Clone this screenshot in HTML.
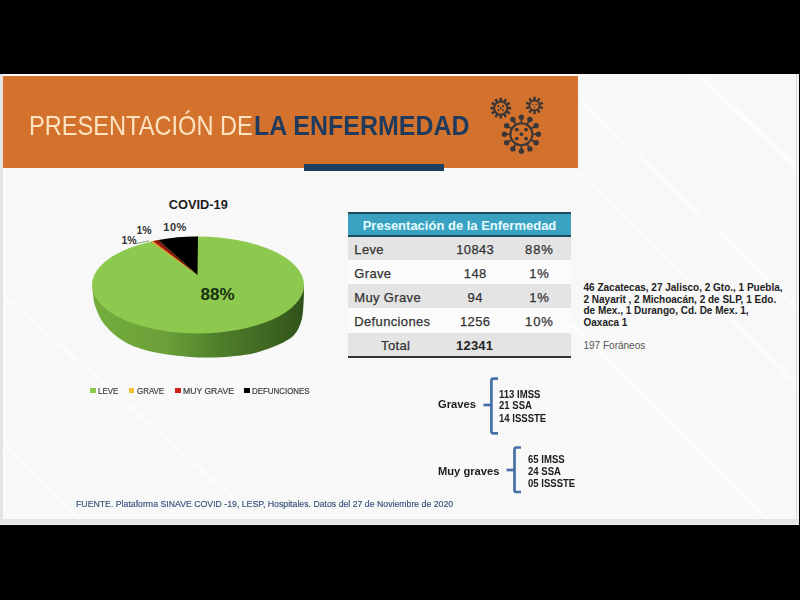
<!DOCTYPE html>
<html><head><meta charset="utf-8">
<style>
html,body{margin:0;padding:0;}
body{width:800px;height:600px;background:#000;overflow:hidden;position:relative;font-family:"Liberation Sans",sans-serif;}
.abs{position:absolute;}
.t{position:absolute;white-space:nowrap;line-height:1;transform-origin:0 0;}
#slide{position:absolute;left:0;top:74px;width:799px;height:450.6px;background:#f8f8f8;overflow:hidden;}
</style></head><body>
<div id="slide">
  <svg class="abs" style="left:0;top:0" width="799" height="451" viewBox="0 74 799 451">
    <defs><filter id="bl" x="-10%" y="-10%" width="120%" height="120%"><feGaussianBlur stdDeviation="1.2"/></filter></defs>
    <g stroke="#ffffff" fill="none" stroke-linecap="round" filter="url(#bl)">
      <line x1="581" y1="101" x2="800" y2="310" stroke-width="2.2"/>
      <line x1="578" y1="172" x2="800" y2="387" stroke-width="2"/>
      <line x1="697" y1="74" x2="800" y2="170" stroke-width="3"/>
      <line x1="560" y1="313" x2="771" y2="524" stroke-width="2.2"/>
      <line x1="0" y1="292" x2="240" y2="504" stroke-width="2.2"/>
      <line x1="0" y1="439" x2="85" y2="524" stroke-width="2"/>
    </g>
          </svg>
  <div class="abs" style="left:0;top:0;width:3px;height:451px;background:#e4e4e4"></div>
  <div class="abs" style="left:3px;top:0;width:2px;height:451px;background:#fafafa"></div>
  <div class="abs" style="left:795.5px;top:0;width:1.5px;height:451px;background:#d9d9d9"></div>
  <div class="abs" style="left:797px;top:0;width:2px;height:451px;background:#f4f4f4"></div>
  <div class="abs" style="left:0;top:444.6px;width:799px;height:5px;background:#e5e5e7"></div>
  <div class="abs" style="left:0;top:449.6px;width:799px;height:1px;background:#f0f0f0"></div>
</div>
<div class="abs" style="left:3px;top:76px;width:575px;height:91.5px;background:#d3722c"></div>
<div class="abs" style="left:304px;top:164px;width:140px;height:6.5px;background:#1c3f62"></div>
<div class="t" style="left:28.7px;top:112.22px;font-size:27.5px;font-weight:400;color:#fde3c2;transform:scaleX(0.858);">PRESENTACIÓN DE</div>
<div class="t" style="left:254px;top:113.34px;font-size:27.0px;font-weight:700;color:#1f3a5c;transform:scaleX(0.925);">LA ENFERMEDAD</div>
<svg class="abs" style="left:0;top:0" width="800" height="600" viewBox="0 0 800 600"><circle cx="521.4" cy="134.2" r="11.0" fill="none" stroke="#3b3637" stroke-width="2.0"/><line x1="521.40" y1="122.70" x2="521.40" y2="117.20" stroke="#3b3637" stroke-width="1.8"/><circle cx="521.40" cy="117.20" r="2.7" fill="#3b3637"/><line x1="527.15" y1="124.24" x2="529.90" y2="119.48" stroke="#3b3637" stroke-width="1.8"/><circle cx="529.90" cy="119.48" r="2.7" fill="#3b3637"/><line x1="531.36" y1="128.45" x2="536.12" y2="125.70" stroke="#3b3637" stroke-width="1.8"/><circle cx="536.12" cy="125.70" r="2.7" fill="#3b3637"/><line x1="532.90" y1="134.20" x2="538.40" y2="134.20" stroke="#3b3637" stroke-width="1.8"/><circle cx="538.40" cy="134.20" r="2.7" fill="#3b3637"/><line x1="531.36" y1="139.95" x2="536.12" y2="142.70" stroke="#3b3637" stroke-width="1.8"/><circle cx="536.12" cy="142.70" r="2.7" fill="#3b3637"/><line x1="527.15" y1="144.16" x2="529.90" y2="148.92" stroke="#3b3637" stroke-width="1.8"/><circle cx="529.90" cy="148.92" r="2.7" fill="#3b3637"/><line x1="521.40" y1="145.70" x2="521.40" y2="151.20" stroke="#3b3637" stroke-width="1.8"/><circle cx="521.40" cy="151.20" r="2.7" fill="#3b3637"/><line x1="515.65" y1="144.16" x2="512.90" y2="148.92" stroke="#3b3637" stroke-width="1.8"/><circle cx="512.90" cy="148.92" r="2.7" fill="#3b3637"/><line x1="511.44" y1="139.95" x2="506.68" y2="142.70" stroke="#3b3637" stroke-width="1.8"/><circle cx="506.68" cy="142.70" r="2.7" fill="#3b3637"/><line x1="509.90" y1="134.20" x2="504.40" y2="134.20" stroke="#3b3637" stroke-width="1.8"/><circle cx="504.40" cy="134.20" r="2.7" fill="#3b3637"/><line x1="511.44" y1="128.45" x2="506.68" y2="125.70" stroke="#3b3637" stroke-width="1.8"/><circle cx="506.68" cy="125.70" r="2.7" fill="#3b3637"/><line x1="515.65" y1="124.24" x2="512.90" y2="119.48" stroke="#3b3637" stroke-width="1.8"/><circle cx="512.90" cy="119.48" r="2.7" fill="#3b3637"/><circle cx="516.80" cy="129.60" r="1.9" fill="#3b3637"/><circle cx="526.00" cy="129.60" r="1.9" fill="#3b3637"/><circle cx="521.40" cy="134.20" r="1.9" fill="#3b3637"/><circle cx="516.80" cy="138.60" r="1.9" fill="#3b3637"/><circle cx="526.00" cy="138.60" r="1.9" fill="#3b3637"/><circle cx="500.75" cy="108.1" r="6.6" fill="none" stroke="#3b3637" stroke-width="2.0"/><line x1="500.75" y1="101.10" x2="500.75" y2="97.70" stroke="#3b3637" stroke-width="2.6"/><line x1="504.25" y1="102.04" x2="505.95" y2="99.09" stroke="#3b3637" stroke-width="2.6"/><line x1="506.81" y1="104.60" x2="509.76" y2="102.90" stroke="#3b3637" stroke-width="2.6"/><line x1="507.75" y1="108.10" x2="511.15" y2="108.10" stroke="#3b3637" stroke-width="2.6"/><line x1="506.81" y1="111.60" x2="509.76" y2="113.30" stroke="#3b3637" stroke-width="2.6"/><line x1="504.25" y1="114.16" x2="505.95" y2="117.11" stroke="#3b3637" stroke-width="2.6"/><line x1="500.75" y1="115.10" x2="500.75" y2="118.50" stroke="#3b3637" stroke-width="2.6"/><line x1="497.25" y1="114.16" x2="495.55" y2="117.11" stroke="#3b3637" stroke-width="2.6"/><line x1="494.69" y1="111.60" x2="491.74" y2="113.30" stroke="#3b3637" stroke-width="2.6"/><line x1="493.75" y1="108.10" x2="490.35" y2="108.10" stroke="#3b3637" stroke-width="2.6"/><line x1="494.69" y1="104.60" x2="491.74" y2="102.90" stroke="#3b3637" stroke-width="2.6"/><line x1="497.25" y1="102.04" x2="495.55" y2="99.09" stroke="#3b3637" stroke-width="2.6"/><circle cx="498.50" cy="106.20" r="1.1" fill="#3b3637"/><circle cx="503.00" cy="106.20" r="1.1" fill="#3b3637"/><circle cx="500.75" cy="108.30" r="1.1" fill="#3b3637"/><circle cx="498.50" cy="110.35" r="1.0" fill="#3b3637"/><circle cx="503.00" cy="110.35" r="1.0" fill="#3b3637"/><circle cx="534.5" cy="105.5" r="5.0" fill="none" stroke="#3b3637" stroke-width="1.8"/><line x1="534.50" y1="100.00" x2="534.50" y2="96.70" stroke="#3b3637" stroke-width="2.4"/><line x1="537.73" y1="101.05" x2="539.67" y2="98.38" stroke="#3b3637" stroke-width="2.4"/><line x1="539.73" y1="103.80" x2="542.87" y2="102.78" stroke="#3b3637" stroke-width="2.4"/><line x1="539.73" y1="107.20" x2="542.87" y2="108.22" stroke="#3b3637" stroke-width="2.4"/><line x1="537.73" y1="109.95" x2="539.67" y2="112.62" stroke="#3b3637" stroke-width="2.4"/><line x1="534.50" y1="111.00" x2="534.50" y2="114.30" stroke="#3b3637" stroke-width="2.4"/><line x1="531.27" y1="109.95" x2="529.33" y2="112.62" stroke="#3b3637" stroke-width="2.4"/><line x1="529.27" y1="107.20" x2="526.13" y2="108.22" stroke="#3b3637" stroke-width="2.4"/><line x1="529.27" y1="103.80" x2="526.13" y2="102.78" stroke="#3b3637" stroke-width="2.4"/><line x1="531.27" y1="101.05" x2="529.33" y2="98.38" stroke="#3b3637" stroke-width="2.4"/><circle cx="532.90" cy="104.50" r="0.8" fill="#3b3637"/><circle cx="536.10" cy="104.50" r="0.8" fill="#3b3637"/><circle cx="534.50" cy="107.30" r="0.8" fill="#3b3637"/></svg>
<svg class="abs" style="left:0;top:0" width="800" height="600" viewBox="0 0 800 600"><defs><linearGradient id="sideg" x1="92" y1="0" x2="304" y2="0" gradientUnits="userSpaceOnUse"><stop offset="0" stop-color="#74ad3f"/><stop offset="0.35" stop-color="#6b9f38"/><stop offset="0.6" stop-color="#4f7f2b"/><stop offset="0.85" stop-color="#3d6421"/><stop offset="1" stop-color="#30521a"/></linearGradient></defs><path d="M92.3,285 C92.45,286.83 92.67,292.33 93.2,296 C93.73,299.67 93.62,302.25 95.5,307 C97.38,311.75 100.00,318.92 104.5,324.5 C109.00,330.08 115.75,336.25 122.5,340.5 C129.25,344.75 136.25,347.50 145,350 C153.75,352.50 165.00,354.23 175,355.5 C185.00,356.77 195.00,357.52 205,357.6 C215.00,357.68 225.83,357.02 235,356 C244.17,354.98 250.83,354.42 260,351.5 C269.17,348.58 283.17,343.42 290,338.5 C296.83,333.58 298.72,328.42 301,322 C303.28,315.58 303.25,306.17 303.7,300 C304.15,293.83 303.70,287.50 303.7,285 Z" fill="url(#sideg)"/><ellipse cx="198" cy="285" rx="106" ry="48.5" fill="#8dc94f"/><path d="M197.5,275 L198,236.5 A106,48.5 0 0 0 158.50,239.99 Z" fill="#000"/><defs><linearGradient id="redg" x1="158" y1="236" x2="151" y2="244" gradientUnits="userSpaceOnUse"><stop offset="0" stop-color="#200404"/><stop offset="0.5" stop-color="#a01c10"/><stop offset="1" stop-color="#e0401a"/></linearGradient></defs><path d="M197.5,275 L158.50,239.99 A106,48.5 0 0 0 152.60,241.17 Z" fill="url(#redg)"/><path d="M197.5,275 L152.60,241.17 A106,48.5 0 0 0 150.60,241.62 Z" fill="#f5a030"/><line x1="136" y1="243.5" x2="149" y2="240.8" stroke="#6a8a50" stroke-width="0.8"/></svg>
<div class="t" style="left:168.8px;top:199.26px;font-size:12.8px;font-weight:700;color:#1e1e1e;">COVID-19</div>
<div class="t" style="left:136.5px;top:224.61px;font-size:10.5px;font-weight:700;color:#333;">1%</div>
<div class="t" style="left:121.5px;top:235.11px;font-size:10.5px;font-weight:700;color:#333;">1%</div>
<div class="t" style="left:163.3px;top:221.69px;font-size:11px;font-weight:700;color:#333;letter-spacing:0.5px;">10%</div>
<div class="t" style="left:200.5px;top:286.11px;font-size:17px;font-weight:700;color:#17300d;">88%</div>
<div class="abs" style="left:90px;top:387.5px;width:5.5px;height:5px;background:#8dc94f"></div>
<div class="abs" style="left:128.5px;top:387.5px;width:5.5px;height:5px;background:#f2c12e"></div>
<div class="abs" style="left:175px;top:387.5px;width:5.5px;height:5px;background:#d0201a"></div>
<div class="abs" style="left:244px;top:387.5px;width:5.5px;height:5px;background:#000"></div>
<div class="t" style="left:98px;top:386.55px;font-size:8.8px;font-weight:400;color:#404040;transform:scaleX(0.9);-webkit-text-stroke:0.2px #404040;">LEVE</div>
<div class="t" style="left:136.5px;top:386.55px;font-size:8.8px;font-weight:400;color:#404040;transform:scaleX(0.9);-webkit-text-stroke:0.2px #404040;">GRAVE</div>
<div class="t" style="left:183px;top:386.55px;font-size:8.8px;font-weight:400;color:#404040;transform:scaleX(0.98);-webkit-text-stroke:0.2px #404040;">MUY GRAVE</div>
<div class="t" style="left:251.5px;top:386.55px;font-size:8.8px;font-weight:400;color:#404040;transform:scaleX(0.9);-webkit-text-stroke:0.2px #404040;">DEFUNCIONES</div>
<div class="abs" style="left:348px;top:212px;width:223px;height:2px;background:#1b4a5a"></div>
<div class="abs" style="left:348px;top:214px;width:223px;height:21px;background:#3aa2c0"></div>
<div class="abs" style="left:348px;top:235px;width:223px;height:2px;background:#1b4a5a"></div>
<div class="abs" style="left:348px;top:237px;width:223px;height:23px;background:#e4e4e4"></div>
<div class="abs" style="left:348px;top:260px;width:223px;height:24px;background:#fbfbfb"></div>
<div class="abs" style="left:348px;top:284px;width:223px;height:24px;background:#e4e4e4"></div>
<div class="abs" style="left:348px;top:308px;width:223px;height:24.5px;background:#fbfbfb"></div>
<div class="abs" style="left:348px;top:332.5px;width:223px;height:23.0px;background:#e4e4e4"></div>
<div class="abs" style="left:348px;top:355.5px;width:223px;height:2.0px;background:#333"></div>
<div class="t" style="left:359.5px;width:200px;text-align:center;top:218.70px;font-size:13px;font-weight:700;color:#e6fbff;">Presentación de la Enfermedad</div>
<div class="t" style="left:354.3px;top:243.00px;font-size:13px;font-weight:400;color:#333;letter-spacing:0.35px;-webkit-text-stroke:0.25px #333;">Leve</div>
<div class="t" style="left:375px;width:200px;text-align:center;top:243.00px;font-size:13px;font-weight:400;color:#333;letter-spacing:0.35px;text-indent:0.35px;-webkit-text-stroke:0.25px #333;">10843</div>
<div class="t" style="left:439px;width:200px;text-align:center;top:243.00px;font-size:13px;font-weight:400;color:#333;letter-spacing:0.9px;text-indent:0.9px;-webkit-text-stroke:0.25px #333;">88%</div>
<div class="t" style="left:354.3px;top:267.30px;font-size:13px;font-weight:400;color:#333;letter-spacing:0.35px;-webkit-text-stroke:0.25px #333;">Grave</div>
<div class="t" style="left:375px;width:200px;text-align:center;top:267.30px;font-size:13px;font-weight:400;color:#333;letter-spacing:0.35px;text-indent:0.35px;-webkit-text-stroke:0.25px #333;">148</div>
<div class="t" style="left:439px;width:200px;text-align:center;top:267.30px;font-size:13px;font-weight:400;color:#333;letter-spacing:0.9px;text-indent:0.9px;-webkit-text-stroke:0.25px #333;">1%</div>
<div class="t" style="left:354.3px;top:291.40px;font-size:13px;font-weight:400;color:#333;letter-spacing:0.35px;-webkit-text-stroke:0.25px #333;">Muy Grave</div>
<div class="t" style="left:375px;width:200px;text-align:center;top:291.40px;font-size:13px;font-weight:400;color:#333;letter-spacing:0.35px;text-indent:0.35px;-webkit-text-stroke:0.25px #333;">94</div>
<div class="t" style="left:439px;width:200px;text-align:center;top:291.40px;font-size:13px;font-weight:400;color:#333;letter-spacing:0.9px;text-indent:0.9px;-webkit-text-stroke:0.25px #333;">1%</div>
<div class="t" style="left:354.3px;top:315.40px;font-size:13px;font-weight:400;color:#333;letter-spacing:0.35px;-webkit-text-stroke:0.25px #333;">Defunciones</div>
<div class="t" style="left:375px;width:200px;text-align:center;top:315.40px;font-size:13px;font-weight:400;color:#333;letter-spacing:0.35px;text-indent:0.35px;-webkit-text-stroke:0.25px #333;">1256</div>
<div class="t" style="left:439px;width:200px;text-align:center;top:315.40px;font-size:13px;font-weight:400;color:#333;letter-spacing:0.9px;text-indent:0.9px;-webkit-text-stroke:0.25px #333;">10%</div>
<div class="t" style="left:295.5px;width:200px;text-align:center;top:339.30px;font-size:13px;font-weight:400;color:#333;letter-spacing:0.35px;text-indent:0.35px;-webkit-text-stroke:0.25px #333;">Total</div>
<div class="t" style="left:374.5px;width:200px;text-align:center;top:339.30px;font-size:13px;font-weight:700;color:#222;letter-spacing:0.2px;text-indent:0.2px;">12341</div>
<div class="t" style="left:583.5px;top:283.04px;font-size:10px;font-weight:700;color:#222;">46 Zacatecas, 27 Jalisco, 2 Gto., 1 Puebla,</div>
<div class="t" style="left:583.5px;top:294.74px;font-size:10px;font-weight:700;color:#222;">2 Nayarit , 2 Michoacán, 2 de SLP, 1 Edo.</div>
<div class="t" style="left:583.5px;top:306.44px;font-size:10px;font-weight:700;color:#222;">de Mex., 1 Durango, Cd. De Mex. 1,</div>
<div class="t" style="left:583.5px;top:318.14px;font-size:10px;font-weight:700;color:#222;">Oaxaca 1</div>
<div class="t" style="left:583.5px;top:340.74px;font-size:10px;font-weight:400;color:#555;">197 Foráneos</div>
<div class="t" style="left:437.5px;top:398.55px;font-size:11.4px;font-weight:700;color:#1c1c1c;transform:scaleX(0.98);">Graves</div>
<div class="t" style="left:499px;top:389.74px;font-size:10px;font-weight:700;color:#1c1c1c;transform:scaleX(0.955);">113 IMSS</div>
<div class="t" style="left:499px;top:401.44px;font-size:10px;font-weight:700;color:#1c1c1c;transform:scaleX(0.955);">21 SSA</div>
<div class="t" style="left:499px;top:413.54px;font-size:10px;font-weight:700;color:#1c1c1c;transform:scaleX(0.955);">14 ISSSTE</div>
<div class="t" style="left:438px;top:466.35px;font-size:11.4px;font-weight:700;color:#1c1c1c;transform:scaleX(0.98);">Muy graves</div>
<div class="t" style="left:527.5px;top:454.84px;font-size:10px;font-weight:700;color:#1c1c1c;transform:scaleX(0.955);">65 IMSS</div>
<div class="t" style="left:527.5px;top:466.74px;font-size:10px;font-weight:700;color:#1c1c1c;transform:scaleX(0.955);">24 SSA</div>
<div class="t" style="left:527.5px;top:478.54px;font-size:10px;font-weight:700;color:#1c1c1c;transform:scaleX(0.955);">05 ISSSTE</div>
<svg class="abs" style="left:0;top:0" width="800" height="600" viewBox="0 0 800 600" fill="none" stroke="#4671a8" stroke-width="2.7" stroke-linecap="butt"><path d="M498,378.6 L493.5,378.6 Q491.4,378.6 491.4,380.7 L491.4,431.2 Q491.4,433.3 493.5,433.3 L498,433.3"/><path d="M483.5,405 L491.4,405"/><path d="M521,447.5 L516.6,447.5 Q514.5,447.5 514.5,449.6 L514.5,490 Q514.5,492 516.6,492 L521,492"/><path d="M506.5,470 L514.5,470"/></svg>
<div class="t" style="left:75.5px;top:500.18px;font-size:9px;font-weight:400;color:#35507a;transform:scaleX(0.97);-webkit-text-stroke:0.15px #35507a;">FUENTE. Plataforma SINAVE COVID -19, LESP, Hospitales. Datos del 27 de Noviembre de 2020</div>
</body></html>
